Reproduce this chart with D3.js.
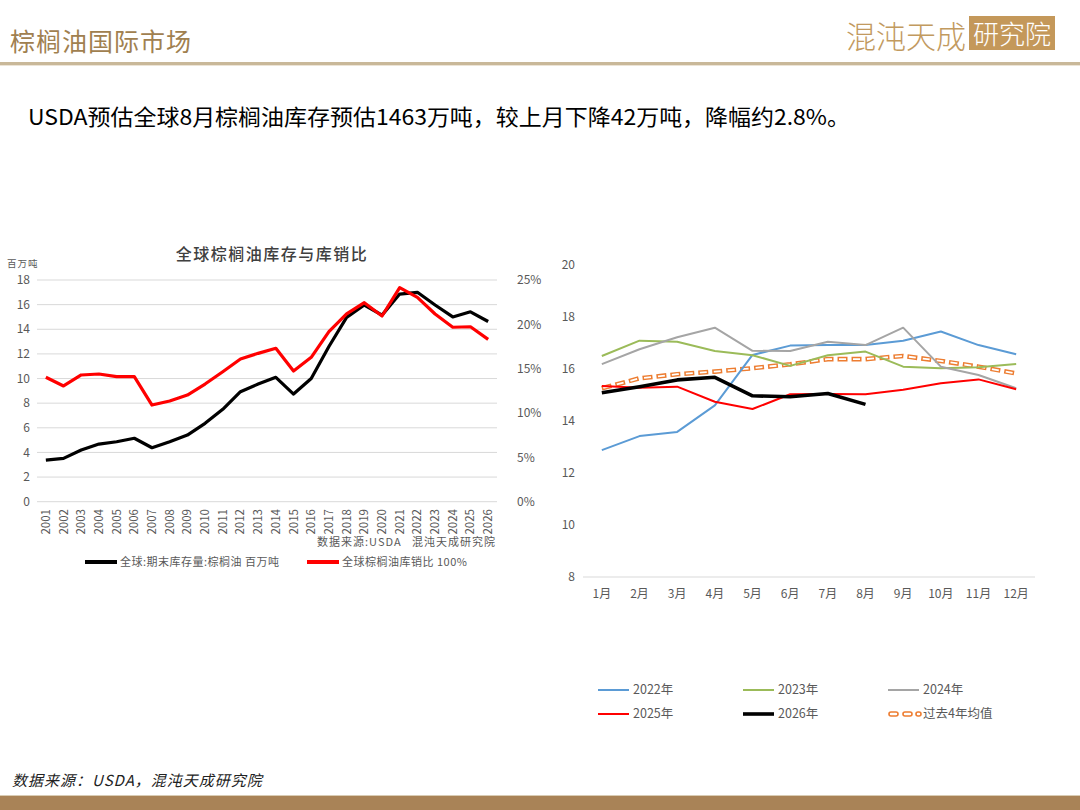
<!DOCTYPE html>
<html>
<head>
<meta charset="utf-8">
<script src="https://cdn.jsdelivr.net/npm/d3@7"></script>
<style>
  body { margin: 0; background: #fff; }
  svg { display: block; font-family: "Noto Sans CJK SC", "Noto Sans", sans-serif; }
</style>
</head>
<body>
<svg id="chart" width="1080" height="810"></svg>
<script>
// left chart: yearly stock and stock-to-use ratio
const years = d3.range(2001, 2027).map(String);
const stock = [3.38, 3.52, 4.2, 4.68, 4.87, 5.15, 4.38, 4.87, 5.41, 6.36, 7.5, 8.93, 9.55, 10.1, 8.74, 10.0,
               12.6, 14.97, 15.97, 15.15, 16.86, 17.0, 15.97, 15.0, 15.42, 14.63];
const ratio = [14.03, 13.05, 14.29, 14.4, 14.1, 14.1, 10.9, 11.35, 12.03, 13.27, 14.66, 16.09, 16.73, 17.3, 14.74, 16.28,
               19.17, 21.17, 22.44, 20.94, 24.13, 23.05, 21.17, 19.67, 19.73, 18.31];
const leftTicks = [0, 2, 4, 6, 8, 10, 12, 14, 16, 18];
const rightTicks = [0, 5, 10, 15, 20, 25];

// right chart: monthly stock by year
const months = ["1月", "2月", "3月", "4月", "5月", "6月", "7月", "8月", "9月", "10月", "11月", "12月"];
const s2022 = [12.88, 13.42, 13.58, 14.6, 16.54, 16.9, 16.92, 16.92, 17.09, 17.44, 16.92, 16.57];
const s2023 = [16.5, 17.09, 17.05, 16.69, 16.53, 16.12, 16.53, 16.67, 16.09, 16.03, 16.07, 16.19];
const s2024 = [16.19, 16.76, 17.22, 17.59, 16.7, 16.69, 17.05, 16.92, 17.59, 16.09, 15.77, 15.26];
const s2025 = [15.35, 15.28, 15.32, 14.74, 14.46, 15.03, 15.04, 15.03, 15.2, 15.45, 15.6, 15.22];
const s2026 = [15.09, 15.32, 15.58, 15.68, 14.97, 14.93, 15.06, 14.64];
const avg4 = [15.26, 15.64, 15.8, 15.9, 16.03, 16.18, 16.38, 16.38, 16.5, 16.31, 16.09, 15.83];
const monthTicks = [8, 10, 12, 14, 16, 18, 20];

const svg = d3.select("#chart");
const grey = "#595959";

// ---- header ----
svg.append("text").attr("x", 10).attr("y", 51)
  .attr("font-size", 25).attr("fill", "#a0804f").attr("letter-spacing", 1)
  .text("棕榈油国际市场");
svg.append("rect").attr("x", 0).attr("y", 62).attr("width", 1080).attr("height", 3).attr("fill", "#c9b899");
svg.append("rect").attr("x", 0).attr("y", 65).attr("width", 1080).attr("height", 1).attr("fill", "#ece4d6");

// logo
svg.append("text").attr("x", 846).attr("y", 48)
  .attr("font-size", 31).attr("fill", "#c29a5f").attr("font-weight", 300)
  .attr("textLength", 120).attr("lengthAdjust", "spacingAndGlyphs")
  .text("混沌天成");
svg.append("rect").attr("x", 969).attr("y", 16).attr("width", 86).attr("height", 34).attr("fill", "#c4985a");
svg.append("text").attr("x", 1012).attr("y", 44).attr("text-anchor", "middle")
  .attr("font-size", 26).attr("fill", "#fff").attr("font-weight", 300)
  .text("研究院");

// subtitle
svg.append("text").attr("x", 28).attr("y", 125)
  .attr("font-size", 22).attr("fill", "#000")
  .attr("textLength", 822).attr("lengthAdjust", "spacingAndGlyphs")
  .text("USDA预估全球8月棕榈油库存预估1463万吨，较上月下降42万吨，降幅约2.8%。");

// ---- left chart ----
const xL = d3.scaleBand().domain(years).range([37, 497]);
const cx = d => xL(d) + xL.bandwidth() / 2;
const yL = d3.scaleLinear().domain([0, 18]).range([501.7, 280]);
const yR = d3.scaleLinear().domain([0, 25]).range([501.7, 280]);

svg.append("text").attr("x", 272).attr("y", 260).attr("text-anchor", "middle")
  .attr("font-size", 16).attr("font-weight", 500).attr("fill", "#404040").attr("letter-spacing", 1.5)
  .text("全球棕榈油库存与库销比");
svg.append("text").attr("x", 7).attr("y", 267).attr("font-size", 9.5).attr("fill", grey)
  .attr("letter-spacing", 1).text("百万吨");

const gl = svg.append("g");
gl.selectAll("line.grid").data(leftTicks).enter().append("line")
  .attr("x1", 37).attr("x2", 497)
  .attr("y1", d => yL(d)).attr("y2", d => yL(d))
  .attr("stroke", "#d9d9d9").attr("stroke-width", 1);
gl.selectAll("text.l").data(leftTicks).enter().append("text")
  .attr("x", 30).attr("y", d => yL(d)).attr("dy", "0.35em")
  .attr("text-anchor", "end").attr("font-size", 12).attr("fill", grey)
  .text(d => d);
gl.selectAll("text.r").data(rightTicks).enter().append("text")
  .attr("x", 517).attr("y", d => yR(d)).attr("dy", "0.35em")
  .attr("font-size", 12).attr("fill", grey)
  .text(d => d + "%");
gl.selectAll("text.yr").data(years).enter().append("text")
  .attr("transform", d => `translate(${cx(d)},509) rotate(-90)`)
  .attr("dy", "0.35em").attr("text-anchor", "end")
  .attr("font-size", 11.5).attr("fill", grey)
  .text(d => d);

const lineStock = d3.line().x((d, i) => cx(years[i])).y(d => yL(d));
const lineRatio = d3.line().x((d, i) => cx(years[i])).y(d => yR(d));
gl.append("path").attr("d", lineStock(stock)).attr("fill", "none")
  .attr("stroke", "#000").attr("stroke-width", 3.2).attr("stroke-linejoin", "round");
gl.append("path").attr("d", lineRatio(ratio)).attr("fill", "none")
  .attr("stroke", "#ff0000").attr("stroke-width", 3.2).attr("stroke-linejoin", "round");

gl.append("text").attr("x", 496).attr("y", 546).attr("text-anchor", "end")
  .attr("font-size", 11).attr("fill", grey).attr("letter-spacing", 1)
  .style("white-space", "pre")
  .text("数据来源:USDA   混沌天成研究院");

const legL = [
  { label: "全球:期末库存量:棕榈油 百万吨", color: "#000", x: 85 },
  { label: "全球棕榈油库销比 100%", color: "#ff0000", x: 307 }
];
const lg = gl.selectAll("g.leg").data(legL).enter().append("g");
lg.append("line").attr("x1", d => d.x).attr("x2", d => d.x + 32)
  .attr("y1", 562).attr("y2", 562).attr("stroke", d => d.color).attr("stroke-width", 4);
lg.append("text").attr("x", d => d.x + 35).attr("y", 562).attr("dy", "0.35em")
  .attr("font-size", 11).attr("fill", grey).attr("letter-spacing", 0.5)
  .text(d => d.label);

// ---- right chart ----
const xM = d3.scaleBand().domain(months).range([583, 1035]);
const mx = d => xM(d) + xM.bandwidth() / 2;
const yM = d3.scaleLinear().domain([8, 20]).range([577, 265]);

const gr = svg.append("g");
gr.append("line").attr("x1", 583).attr("x2", 1035).attr("y1", yM(8)).attr("y2", yM(8))
  .attr("stroke", "#d9d9d9").attr("stroke-width", 1);
gr.selectAll("text.t").data(monthTicks).enter().append("text")
  .attr("x", 575).attr("y", d => yM(d)).attr("dy", "0.35em")
  .attr("text-anchor", "end").attr("font-size", 12).attr("fill", grey)
  .text(d => d);
gr.selectAll("text.m").data(months).enter().append("text")
  .attr("x", d => mx(d)).attr("y", 594).attr("dy", "0.35em")
  .attr("text-anchor", "middle").attr("font-size", 12).attr("fill", grey)
  .text(d => d);

const lineM = d3.line().x((d, i) => mx(months[i])).y(d => yM(d));
const series = [
  { label: "2022年", data: s2022, color: "#5b9bd5", w: 2 },
  { label: "2023年", data: s2023, color: "#9bbb59", w: 2 },
  { label: "2024年", data: s2024, color: "#a5a5a5", w: 2 },
  { label: "2025年", data: s2025, color: "#ff0000", w: 2 },
  { label: "2026年", data: s2026, color: "#000", w: 3.6 }
];

// average line drawn as hollow dashes
gr.append("path").attr("d", lineM(avg4)).attr("fill", "none")
  .attr("stroke", "#ed7d31").attr("stroke-width", 4.6).attr("stroke-dasharray", "10 4");
gr.append("path").attr("d", lineM(avg4)).attr("fill", "none")
  .attr("stroke", "#fff").attr("stroke-width", 1.8)
  .attr("stroke-dasharray", "7 7").attr("stroke-dashoffset", -1.5);

series.forEach(s => {
  gr.append("path").attr("d", lineM(s.data)).attr("fill", "none")
    .attr("stroke", s.color).attr("stroke-width", s.w).attr("stroke-linejoin", "round");
});

// legend
const legR = series.concat([{ label: "过去4年均值", color: "#ed7d31", dashed: true }]);
const lgr = gr.selectAll("g.legr").data(legR).enter().append("g")
  .attr("transform", (d, i) => `translate(${598 + (i % 3) * 145},${i < 3 ? 690 : 714})`);
lgr.each(function (d) {
  const g = d3.select(this);
  if (d.dashed) {
    [0, 14, 27].forEach(o => {
      g.append("rect").attr("x", o + 1).attr("y", -2).attr("width", o === 27 ? 5 : 9).attr("height", 4)
        .attr("rx", 2).attr("fill", "#fff").attr("stroke", "#ed7d31").attr("stroke-width", 1.6);
    });
  } else {
    g.append("line").attr("x1", 0).attr("x2", 31).attr("y1", 0).attr("y2", 0)
      .attr("stroke", d.color).attr("stroke-width", d.w === 3.6 ? 3.6 : 2);
  }
  g.append("text").attr("x", 35).attr("y", 0).attr("dy", "0.35em")
    .attr("font-size", 12.5).attr("fill", grey).text(d.label);
});

// ---- footer ----
svg.append("text").attr("x", 12).attr("y", 786)
  .attr("font-size", 15).attr("fill", "#222").attr("font-style", "italic").attr("letter-spacing", 1)
  .text("数据来源：USDA，混沌天成研究院");
svg.append("rect").attr("x", 0).attr("y", 795).attr("width", 1080).attr("height", 1).attr("fill", "#d9ccb4");
svg.append("rect").attr("x", 0).attr("y", 796).attr("width", 1080).attr("height", 14).attr("fill", "#a98357");
</script>
</body>
</html>
